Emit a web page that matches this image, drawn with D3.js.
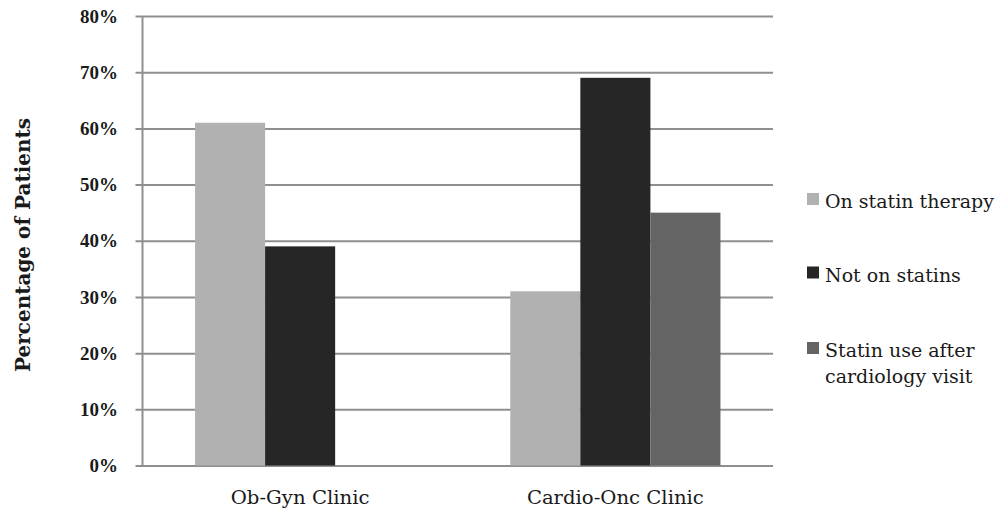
<!DOCTYPE html>
<html>
<head>
<meta charset="utf-8">
<script src="https://cdn.jsdelivr.net/npm/d3@7"></script>
<style>
  html, body { margin: 0; padding: 0; background: #fff; }
  svg { display: block; }
</style>
</head>
<body>
<svg id="chart" width="1001" height="508"></svg>
<script>
// Clinics on the x axis
const clinics = ["Ob-Gyn Clinic", "Cardio-Onc Clinic"];
// Series (legend order)
const seriesNames = ["On statin therapy", "Not on statins", "Statin use after cardiology visit"];
const seriesColors = ["#b1b1b1", "#262626", "#646464"];
// Percentage of patients per clinic, one array per series (null = not reported)
const onStatin = [61, 31];
const notOnStatins = [39, 69];
const afterCardiology = [null, 45];
// Y axis ticks
const yTicks = [0, 10, 20, 30, 40, 50, 60, 70, 80];

const seriesValues = [onStatin, notOnStatins, afterCardiology];

const tickFont = "'Liberation Serif', 'Times New Roman', serif";
const textFont = "'DejaVu Serif', serif";

const svg = d3.select("#chart");
const margin = { left: 142.5, right: 228, top: 16, bottom: 42.5 };
const W = 1001, H = 508;
const plotW = W - margin.left - margin.right;
const plotH = H - margin.top - margin.bottom;

const g = svg.append("g").attr("transform", `translate(${margin.left},${margin.top})`);

const x0 = d3.scaleBand().domain(clinics).range([0, plotW]).paddingInner(1/3).paddingOuter(1/6);
const x1 = d3.scaleBand().domain(d3.range(seriesNames.length)).range([0, x0.bandwidth()]);
const y = d3.scaleLinear().domain([0, 80]).range([plotH, 0]);

// Horizontal gridlines with short stubs left of the axis
const yAxis = d3.axisLeft(y)
  .tickValues(yTicks)
  .tickFormat(d => d + "%")
  .tickSize(-(plotW + 7))
  .tickPadding(17);
const yg = g.append("g").attr("transform", "translate(-7,0)").call(yAxis);
yg.select(".domain").remove();
yg.selectAll(".tick line").attr("stroke", "#8f8f8f").attr("stroke-width", 2);
yg.selectAll(".tick text")
  .attr("x", -17.5)
  .attr("fill", "#1a1a1a")
  .style("font-family", tickFont)
  .style("font-size", "19px")
  .style("font-weight", "bold");

// Bars
const groups = g.selectAll(".clinic")
  .data(clinics)
  .join("g")
  .attr("class", "clinic")
  .attr("transform", d => `translate(${x0(d)},0)`);

groups.selectAll("rect")
  .data((c, ci) => seriesValues.map((vals, si) => ({ si, v: vals[ci] })).filter(d => d.v != null))
  .join("rect")
  .attr("x", d => x1(d.si))
  .attr("width", x1.bandwidth())
  .attr("y", d => y(d.v))
  .attr("height", d => plotH - y(d.v))
  .attr("fill", d => seriesColors[d.si]);

// Left vertical axis line
g.append("line")
  .attr("x1", 0).attr("x2", 0)
  .attr("y1", 0).attr("y2", plotH)
  .attr("stroke", "#8f8f8f").attr("stroke-width", 2);

// Category labels
const xAxis = d3.axisBottom(x0).tickSize(0);
const xg = g.append("g").attr("transform", `translate(0,${plotH})`).call(xAxis);
xg.select(".domain").remove();
xg.selectAll(".tick text")
  .attr("y", 38.5)
  .attr("dy", 0)
  .attr("fill", "#1a1a1a")
  .style("font-family", textFont)
  .style("font-size", "19px")
  .attr("textLength", (d, i) => [139, 177][i])
  .attr("lengthAdjust", "spacingAndGlyphs");

// Y axis title
svg.append("text")
  .attr("transform", `translate(30,245) rotate(-90)`)
  .attr("text-anchor", "middle")
  .attr("font-family", textFont)
  .attr("font-weight", "bold")
  .attr("font-size", "20px")
  .attr("fill", "#1a1a1a")
  .text("Percentage of Patients");

// Legend
const legendRows = [
  { lines: [seriesNames[0]], y: 208 },
  { lines: [seriesNames[1]], y: 281.5 },
  { lines: ["Statin use after", "cardiology visit"], y: 357 }
];
const lg = svg.append("g");
legendRows.forEach((row, i) => {
  lg.append("rect")
    .attr("x", 807).attr("y", row.y - 15)
    .attr("width", 12).attr("height", 12)
    .attr("fill", seriesColors[i]);
  const t = lg.append("text")
    .attr("x", 825).attr("y", row.y)
    .attr("font-family", textFont)
    .attr("font-size", "19px")
    .attr("fill", "#1a1a1a");
  row.lines.forEach((ln, j) => {
    t.append("tspan").attr("x", 825).attr("dy", j === 0 ? 0 : 26).text(ln);
  });
});
</script>
</body>
</html>
